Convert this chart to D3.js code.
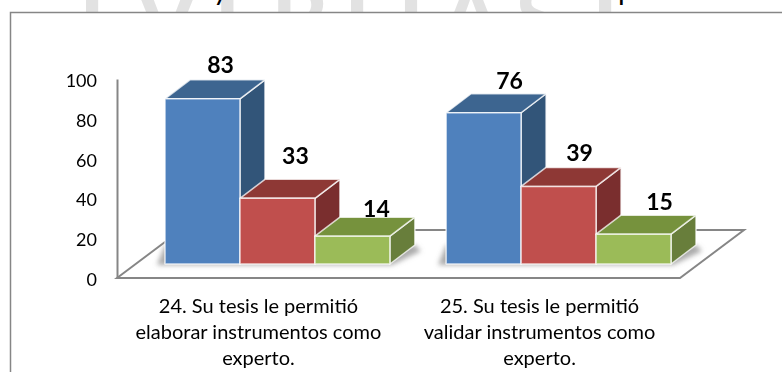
<!DOCTYPE html>
<html><head><meta charset="utf-8">
<script src="https://cdn.jsdelivr.net/npm/d3@7"></script>
<style>html,body{margin:0;padding:0;background:#fff}svg{display:block}text{font-family:Lato,Carlito,sans-serif;fill:#000}</style>
</head><body><svg id="c" width="782" height="372"></svg>
<script>
const categories = [
  ["24. Su tesis le permitió","elaborar instrumentos como","experto."],
  ["25. Su tesis le permitió","validar instrumentos como","experto."]
];
const seriesA = [83, 76];
const seriesB = [33, 39];
const seriesC = [14, 15];
const yTicks = [0,20,40,60,80,100];
const titleText = "Tratado y a los tres niveles de los tres expertos";
const watermarkLetters = ["I","V","E","R","I","T","A","S","I"];
const watermarkPositions = [92,167,240,300,357,411,471,540,605];
const palette = [
  {front:"#4F81BD",top:"#3D6590",side:"#335479"},
  {front:"#C0504D",top:"#8E3835",side:"#7A2F2E"},
  {front:"#9BBB59",top:"#76923C",side:"#677E3B"}
];
const labelDx = [[18,18,24],[26,21,26]];
const labelLift = [[7,15,0],[5,6,5]];

const svg = d3.select("#c");
const defs = svg.append("defs");
defs.append("filter").attr("id","soft").attr("x","-5%").attr("y","-5%").attr("width","110%").attr("height","110%")
  .append("feGaussianBlur").attr("stdDeviation",0.45);
defs.append("filter").attr("id","shadow").attr("x","-10%").attr("y","-50%").attr("width","120%").attr("height","200%")
  .append("feGaussianBlur").attr("stdDeviation",2.5);

const y = d3.scaleLinear().domain([0,100]).range([278,79]);
const floorLift = 14, depthX = 25, depthY = 19;
const yBar = v => y(v) - floorLift;
const x0 = d3.scaleBand().domain(d3.range(categories.length)).range([165,671]).paddingInner(0.2).paddingOuter(0);
const x1 = d3.scaleBand().domain([0,1,2]).range([0,x0.bandwidth()]);
const series = [seriesA,seriesB,seriesC];

// background: cut-off page title and watermark above the frame
const wm = svg.append("g");
wm.selectAll("text").data(watermarkLetters).join("text")
  .attr("x",(d,i)=>watermarkPositions[i]).attr("y",50).attr("text-anchor","middle")
  .attr("font-size",90).attr("font-weight",700).style("fill","#e2e2e2").text(d=>d);
svg.append("text").attr("x",405).attr("y",0).attr("text-anchor","middle")
  .attr("font-size",29).text(titleText);
// chart frame
svg.append("rect").attr("x",10.5).attr("y",12.5).attr("width",800).attr("height",400)
  .attr("fill","#fff").attr("stroke","#868686").attr("stroke-width",1.5);

const plot = svg.append("g").attr("filter","url(#soft)");

// floor
const backLeft = 117+64, backY = y(0)-48;
plot.append("path")
  .attr("d",d3.line()([[117,y(0)],[backLeft,backY],[744,backY],[680,y(0)]])+"Z")
  .attr("fill","#fff").attr("stroke","#868686").attr("stroke-width",2);

// y axis
const axis = plot.append("g").attr("transform","translate(117,0)")
  .call(d3.axisLeft(y).tickValues(yTicks).tickSize(0).tickPadding(20));
axis.select(".domain").attr("stroke","#868686").attr("stroke-width",2);
axis.selectAll("text").attr("font-size",18).attr("font-family","Lato,Carlito,sans-serif").attr("dy","0.42em").style("fill","#000");

// floor shadows
categories.forEach((c,g)=>{
  const l = x0(g), r = l + x0.bandwidth(), b = yBar(0);
  plot.append("path")
    .attr("d",d3.line()([[l-8,b+1],[r+2,b+1],[r+depthX+6,b-depthY+6],[r+depthX,b-depthY],[l,b-depthY]])+"Z")
    .attr("fill","#888").attr("fill-opacity",0.7).attr("filter","url(#shadow)");
});

// bars
categories.forEach((c,g)=>{
  const grp = plot.append("g");
  series.forEach((s,k)=>{
    const v = s[g], l = x0(g)+x1(k), r = l+x1.bandwidth(), t = yBar(v), b = yBar(0);
    const col = palette[k];
    const bar = grp.append("g").attr("stroke","#fff").attr("stroke-opacity",0.75).attr("stroke-width",1.5).attr("stroke-linejoin","round");
    bar.append("path").attr("fill",col.side)
      .attr("d",d3.line()([[r,t],[r+depthX,t-depthY],[r+depthX,b-depthY],[r,b]])+"Z");
    bar.append("path").attr("fill",col.top)
      .attr("d",d3.line()([[l,t],[l+depthX,t-depthY],[r+depthX,t-depthY],[r,t]])+"Z");
    bar.append("rect").attr("fill",col.front).attr("x",l).attr("y",t).attr("width",r-l).attr("height",b-t);
  });
});

// value labels
categories.forEach((c,g)=>{
  series.forEach((s,k)=>{
    const cx = x0(g)+x1(k)+x1.bandwidth()/2;
    plot.append("text").attr("x",cx+labelDx[g][k]).attr("y",yBar(s[g])-depthY-labelLift[g][k])
      .attr("text-anchor","middle").attr("font-size",23).attr("font-weight",700).text(s[g]);
  });
});

// category labels
categories.forEach((lines,g)=>{
  const cx = x0(g)+x0.bandwidth()/2-19;
  const t = plot.append("text").attr("text-anchor","middle").attr("font-size",20);
  lines.forEach((ln,i)=>t.append("tspan").attr("x",cx).attr("y",313+i*26.2).text(ln));
});
</script></body></html>
